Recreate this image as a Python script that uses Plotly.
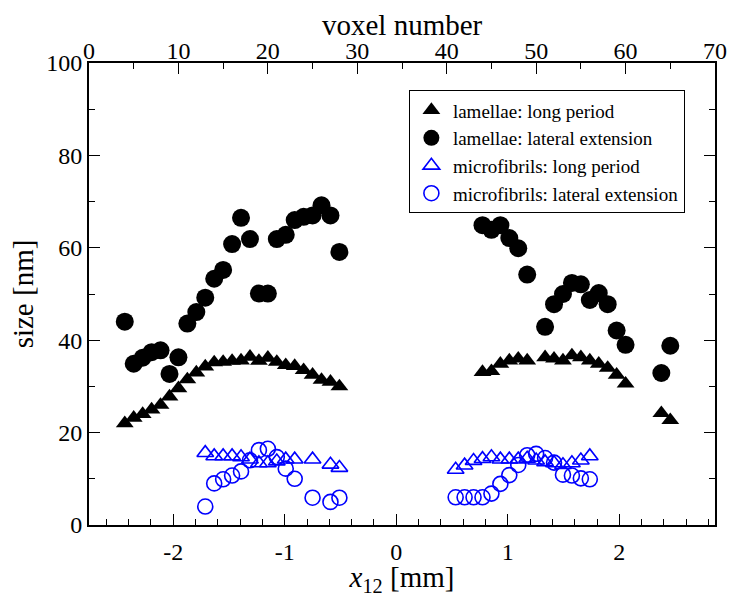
import plotly.graph_objects as go

# Voxel numbers (top axis) and measured sizes in nm
lam_lp_vox = [4, 5, 6, 7, 8, 9, 10, 11, 12, 13, 14, 15, 16, 17, 18, 19, 20, 21, 22, 23, 24, 25, 26, 27, 28,
              44, 45, 46, 47, 48, 49, 51, 52, 53, 54, 55, 56, 57, 58, 59, 60, 64, 65]
lam_lp = [22.0, 23.2, 24.0, 25.0, 26.0, 27.8, 29.6, 31.5, 33.0, 34.3, 35.2, 35.3, 35.5, 35.6, 36.4, 35.5,
          36.2, 35.3, 34.6, 34.4, 33.5, 32.5, 31.4, 31.0, 30.0,
          33.1, 33.3, 34.9, 35.6, 36.0, 35.6, 36.3, 36.0, 35.6, 36.7, 36.3, 35.6, 34.9, 34.0, 32.5, 30.6,
          24.2, 22.7]

lam_le_vox = lam_lp_vox
lam_le = [44.0, 34.9, 36.2, 37.4, 37.8, 32.7, 36.3, 43.6, 46.1, 49.2, 53.3, 55.2, 60.8, 66.5, 61.9, 50.1,
          50.1, 61.9, 62.8, 66.0, 66.7, 67.0, 69.2, 67.0, 59.1,
          64.9, 63.9, 64.9, 62.1, 59.9, 54.2, 42.9, 47.8, 50.0, 52.4, 52.1, 48.7, 50.2, 47.8, 42.1, 39.0,
          32.9, 38.8]

mf_vox = [13, 14, 15, 16, 17, 18, 19, 20, 21, 22, 23, 25, 27, 28,
          41, 42, 43, 44, 45, 46, 47, 48, 49, 50, 51, 52, 53, 54, 55, 56]
mf_lp = [15.6, 14.9, 14.9, 14.9, 14.7, 14.2, 13.4, 13.4, 13.8, 14.2, 14.2, 14.2, 13.1, 12.4,
         12.0, 12.9, 13.9, 14.3, 14.7, 14.2, 14.2, 14.2, 14.4, 14.0, 13.6, 13.4, 13.0, 13.4, 14.0, 14.9]
mf_le = [4.0, 9.0, 9.9, 10.7, 11.6, 14.0, 16.2, 16.5, 14.7, 12.2, 10.0, 5.9, 5.0, 5.9,
         6.0, 6.0, 6.0, 6.0, 6.8, 8.9, 10.8, 13.0, 15.1, 15.4, 14.5, 13.5, 10.9, 10.7, 10.1, 9.9]

# Bottom axis ticks (x12 in mm)
x12_ticks = [-2, -1, 0, 1, 2]
x12_labels = ["-2", "-1", "0", "1", "2"]
x12_range = [-2.755, 2.858]
vox_range = [0, 70]

FONT = "'Liberation Serif', 'Times New Roman', Times, serif"
BLUE = "#0000ff"

fig = go.Figure()

# empty trace so the x12 axis (bottom) is laid out
fig.add_trace(go.Scatter(x=[None], y=[None], xaxis="x", yaxis="y", mode="markers",
                         showlegend=False, hoverinfo="skip"))

fig.add_trace(go.Scatter(
    x=lam_lp_vox, y=lam_lp, xaxis="x2", yaxis="y", mode="markers",
    name="lamellae: long period",
    marker=dict(symbol="triangle-up", size=15.5, color="black", line=dict(width=0))))
fig.add_trace(go.Scatter(
    x=lam_le_vox, y=lam_le, xaxis="x2", yaxis="y", mode="markers",
    name="lamellae: lateral extension",
    marker=dict(symbol="circle", size=18, color="black", line=dict(width=0))))
fig.add_trace(go.Scatter(
    x=mf_vox, y=mf_lp, xaxis="x2", yaxis="y", mode="markers",
    name="microfibrils: long period",
    marker=dict(symbol="triangle-up-open", size=14.5, color=BLUE, line=dict(width=1.6, color=BLUE))))
fig.add_trace(go.Scatter(
    x=mf_vox, y=mf_le, xaxis="x2", yaxis="y", mode="markers",
    name="microfibrils: lateral extension",
    marker=dict(symbol="circle-open", size=15, color=BLUE, line=dict(width=1.6, color=BLUE))))

axis_common = dict(
    showline=True, linecolor="black", linewidth=2,
    ticks="inside", ticklen=11, tickwidth=1.3, tickcolor="black",
    showgrid=False, zeroline=False,
    tickfont=dict(family=FONT, size=24, color="black"),
)

fig.update_layout(
    width=739, height=597,
    margin=dict(l=89, r=15, t=63, b=68),
    paper_bgcolor="white", plot_bgcolor="white",
    font=dict(family=FONT, color="black"),
    xaxis=dict(
        range=x12_range, tickmode="array", tickvals=x12_ticks, ticktext=x12_labels,
        minor=dict(dtick=0.2, tick0=0, ticks="inside", ticklen=6, tickwidth=1.3, tickcolor="black"),
        ticklabelstandoff=4,
        title=dict(text="<i>x</i><sub>12</sub> [mm]", font=dict(family=FONT, size=29), standoff=0),
        **axis_common,
    ),
    xaxis2=dict(
        range=vox_range, overlaying="x", side="top", anchor="y",
        tickmode="linear", tick0=0, dtick=10,
        minor=dict(dtick=5, tick0=0, ticks="inside", ticklen=6, tickwidth=1.3, tickcolor="black"),
        ticklabelstandoff=-8,
        **axis_common,
    ),
    yaxis=dict(
        range=[0, 100], tickmode="linear", tick0=0, dtick=20, mirror="ticks",
        minor=dict(dtick=10, tick0=0, ticks="inside", ticklen=6, tickwidth=1.3, tickcolor="black"),
        title=dict(text="size [nm]", font=dict(family=FONT, size=29), standoff=4),
        **axis_common,
    ),
    legend=dict(
        x=0.511, y=0.941, xanchor="left", yanchor="top",
        bordercolor="black", borderwidth=1, bgcolor="white",
        font=dict(family=FONT, size=19, color="black"),
        tracegroupgap=0, itemwidth=33,
    ),
    annotations=[dict(
        text="voxel number", xref="paper", yref="paper", x=0.5, y=1.082,
        xanchor="center", yanchor="middle", showarrow=False,
        font=dict(family=FONT, size=29, color="black"),
    )],
    showlegend=True,
)

fig.write_html("out.html")
